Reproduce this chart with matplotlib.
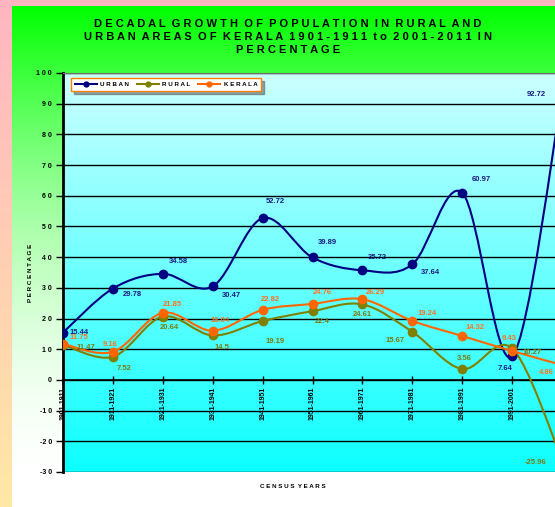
import numpy as np
import matplotlib
matplotlib.use('Agg')
import matplotlib.pyplot as plt
from matplotlib.path import Path
from matplotlib.patches import PathPatch
from matplotlib.lines import Line2D

plt.rcParams['font.family'] = ['Liberation Sans', 'DejaVu Sans']

# data
periods = ['1901-1911', '1911-1921', '1921-1931', '1931-1941', '1941-1951', '1951-1961',
           '1961-1971', '1971-1981', '1981-1991', '1991-2001', '2001-2011']
urban = [15.44, 29.78, 34.58, 30.47, 52.72, 39.89, 35.72, 37.64, 60.97, 7.64, 92.72]
rural = [11.47, 7.52, 20.64, 14.5, 19.19, 22.4, 24.61, 15.67, 3.56, 10.27, -25.96]
kerala = [11.75, 9.16, 21.85, 16.04, 22.82, 24.76, 26.29, 19.24, 14.32, 9.43, 4.86]

# label offsets in pixels (dx, dy)
urban_off = [(16, 0), (19, -6), (16, 12), (19, -9), (13, 17), (15, 15), (15, 13),
             (18, -8), (19, 13), (-7, -12), (-26, 1)]
rural_off = [(23, -3), (11, -12), (7, -11), (9, -12), (13, -20), (10, -10), (0, -10),
             (-17, -9), (2, 10), (20, -4), (-26, -3)]
kerala_off = [(16, 6), (-3, 7), (10, 8), (7, 10), (8, 10), (10, 11), (13, 7),
              (15, 7), (13, 8), (-3, 12), (-16, -7)]

C_URBAN = '#000080'
C_RURAL = '#808000'
C_KERALA = '#ff6600'


def spaced(s):
    return '  '.join(' '.join(w) for w in s.split(' '))


def smooth_path(xs, ys):
    # excel style smoothed line (bezier through points)
    pts = np.column_stack([xs, ys]).astype(float)
    n = len(pts)
    verts = [pts[0]]
    codes = [Path.MOVETO]
    for i in range(n - 1):
        p0 = pts[max(i - 1, 0)]
        p1 = pts[i]
        p2 = pts[i + 1]
        p3 = pts[min(i + 2, n - 1)]
        verts += [p1 + (p2 - p0) / 6, p2 - (p3 - p1) / 6, p2]
        codes += [Path.CURVE4] * 3
    return Path(verts, codes)


W, H = 555, 507
fig = plt.figure(figsize=(W / 100, H / 100), dpi=100)

# backgrounds
img = np.ones((H, W, 3))
t = np.linspace(0, 1, H)[:, None]
pink = np.array([1.0, 0.71, 0.76]) * (1 - t) + np.array([1.0, 0.91, 0.65]) * t
img[:, :, :] = pink[:, None, :]
tg = np.clip((np.arange(H) - 6) / 480, 0, 1)
f = 1 - (1 - tg) ** 1.8
green = np.stack([f, np.ones_like(f), f], axis=1)
img[6:, 12:, :] = green[6:, None, :]
bg = fig.add_axes([0, 0, 1, 1], zorder=-10)
bg.imshow(img, aspect='auto', extent=[0, 1, 0, 1])
bg.axis('off')

pos = [63 / W, (H - 472) / H, 499 / W, 399 / H]
pa = fig.add_axes(pos, zorder=-5)
tv = np.linspace(0, 1, 200)[:, None]
grad = np.array([0.80, 1, 1]) * (1 - tv) + np.array([0.05, 1, 1]) * tv
pa.imshow(grad[:, None, :], aspect='auto', extent=[0, 1, 0, 1])
pa.axis('off')

ax = fig.add_axes(pos)
ax.set_facecolor('none')
ax.spines['bottom'].set_position(('data', 0))
ax.spines['bottom'].set_linewidth(1.2)
ax.spines['left'].set_linewidth(2)
ax.spines['top'].set_color('#707070')
ax.spines['right'].set_visible(False)
ax.set_xlim(0, 10)
ax.set_ylim(-30, 100)

x = np.arange(len(periods))
for vals, col in [(urban, C_URBAN), (rural, C_RURAL), (kerala, C_KERALA)]:
    ax.add_patch(PathPatch(smooth_path(x, vals), fill=False, edgecolor=col, lw=1.5, zorder=3))
    ax.plot(x, vals, 'o', color=col, markersize=6, zorder=4)

for vals, offs, col in [(urban, urban_off, '#1a1a80'), (rural, rural_off, '#7a7a10'),
                        (kerala, kerala_off, '#ff7020')]:
    for i, v in enumerate(vals):
        ax.annotate(str(v), (i, v), xytext=offs[i], textcoords='offset pixels',
                    ha='center', va='center', fontsize=5.5, fontweight='bold', color=col,
                    zorder=5)

# axes styling
yt = list(range(-30, 101, 10))
ax.set_yticks(yt)
ax.set_yticklabels([('-' + ' '.join(str(abs(v)))) if v < 0 else ' '.join(str(v)) for v in yt],
                   fontsize=5, fontweight='bold')
ax.grid(axis='y', color='black', lw=1)
ax.set_axisbelow(True)
ax.tick_params(axis='y', direction='out', length=5, width=1, pad=3)
# last category sits on the (cropped) right edge, its label falls outside the picture
ax.set_xticks(x[:-1])
ax.set_xticklabels(periods[:-1], rotation=90, fontsize=5, fontweight='bold')
ax.tick_params(axis='x', direction='inout', length=6, width=1, pad=2,
               labelrotation=90, labelsize=5)

handles = [Line2D([], [], color=c, lw=1.5, marker='o', markersize=3.5)
           for c in (C_URBAN, C_RURAL, C_KERALA)]
leg = ax.legend(handles, [spaced('URBAN'), spaced('RURAL'), spaced('KERALA')],
                loc='upper left', bbox_to_anchor=(8 / 499, 1 - 5 / 399), borderaxespad=0,
                ncol=3, prop={'size': 4.5, 'weight': 'bold'}, handlelength=3.5,
                handletextpad=0.6, columnspacing=1.2, borderpad=0.6,
                fancybox=False, shadow=True, framealpha=1)
leg.get_frame().set_edgecolor('#ff8000')
leg.get_frame().set_linewidth(1)

title = '\n'.join(spaced(s) for s in ['DECADAL GROWTH OF POPULATION IN RURAL AND',
                                      'URBAN AREAS OF KERALA 1901-1911 to 2001-2011 IN',
                                      'PERCENTAGE'])
fig.text(288 / W, 1 - 37 / H, title, ha='center', va='center', fontsize=8,
         fontweight='bold', linespacing=1.35)
fig.text(30 / W, 1 - 273 / H, spaced('PERCENTAGE'), rotation=90, ha='center', va='center',
         fontsize=4.5, fontweight='bold')
fig.text(293 / W, 1 - 486 / H, spaced('CENSUS YEARS'), ha='center', va='center',
         fontsize=4.5, fontweight='bold')

fig.savefig('out.png', dpi=100)
